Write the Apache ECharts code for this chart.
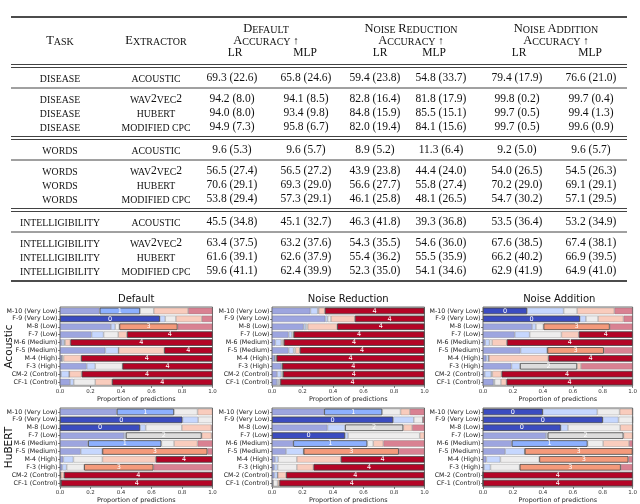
<!DOCTYPE html>
<html><head><meta charset="utf-8">
<script src="https://cdn.jsdelivr.net/npm/echarts@6/dist/echarts.min.js"></script>
<style>html,body{margin:0;padding:0;background:#fff}#c{width:640px;height:504px}</style>
</head><body><div id="c"></div>
<script>
// ---------------- table data ----------------
const tableTasks = ['DISEASE','DISEASE','DISEASE','DISEASE','WORDS','WORDS','WORDS','WORDS','INTELLIGIBILITY','INTELLIGIBILITY','INTELLIGIBILITY','INTELLIGIBILITY'];
const tableExtractors = ['ACOUSTIC','WAV2VEC2','HUBERT','MODIFIED CPC','ACOUSTIC','WAV2VEC2','HUBERT','MODIFIED CPC','ACOUSTIC','WAV2VEC2','HUBERT','MODIFIED CPC'];
const defaultLR = ['69.3 (22.6)','94.2 (8.0)','94.0 (8.0)','94.9 (7.3)','9.6 (5.3)','56.5 (27.4)','70.6 (29.1)','53.8 (29.4)','45.5 (34.8)','63.4 (37.5)','61.6 (39.1)','59.6 (41.1)'];
const defaultMLP = ['65.8 (24.6)','94.1 (8.5)','93.4 (9.8)','95.8 (6.7)','9.6 (5.7)','56.5 (27.2)','69.3 (29.0)','57.3 (29.1)','45.1 (32.7)','63.2 (37.6)','62.6 (37.9)','62.4 (39.9)'];
const noiseRedLR = ['59.4 (23.8)','82.8 (16.4)','84.8 (15.9)','82.0 (19.4)','8.9 (5.2)','43.9 (23.8)','56.6 (27.7)','46.1 (25.8)','46.3 (41.8)','54.3 (35.5)','55.4 (36.2)','52.3 (35.0)'];
const noiseRedMLP = ['54.8 (33.7)','81.8 (17.9)','85.5 (15.1)','84.1 (15.6)','11.3 (6.4)','44.4 (24.0)','55.8 (27.4)','48.1 (26.5)','39.3 (36.8)','54.6 (36.0)','55.5 (35.9)','54.1 (34.6)'];
const noiseAddLR = ['79.4 (17.9)','99.8 (0.2)','99.7 (0.5)','99.7 (0.5)','9.2 (5.0)','54.0 (26.5)','70.2 (29.0)','54.7 (30.2)','53.5 (36.4)','67.6 (38.5)','66.2 (40.2)','62.9 (41.9)'];
const noiseAddMLP = ['76.6 (21.0)','99.7 (0.4)','99.4 (1.3)','99.6 (0.9)','9.6 (5.7)','54.5 (26.3)','69.1 (29.1)','57.1 (29.5)','53.2 (34.9)','67.4 (38.1)','66.9 (39.5)','64.9 (41.0)'];
const conditionHeaders = ['DEFAULT','NOISE REDUCTION','NOISE ADDITION'];
const subHeaders = ['LR','MLP'];

// ---------------- chart data ----------------
const speakers = ['M-10 (Very Low)','F-9 (Very Low)','M-8 (Low)','F-7 (Low)','M-6 (Medium)','F-5 (Medium)','M-4 (High)','F-3 (High)','CM-2 (Control)','CF-1 (Control)'];
const classIds = ['0','1','2','3','4'];
const conditionTitles = ['Default','Noise Reduction','Noise Addition'];
const featureNames = ['Acoustic','HuBERT'];

const acousticDefault = [
  [0.26,0.265,0.09,0.225,0.16],[0.655,0.035,0.07,0.17,0.07],[0.334,0.028,0.027,0.382,0.229],
  [0.207,0.079,0.096,0.057,0.561],[0.012,0.015,0.006,0.035,0.932],[0.297,0.087,0,0.299,0.317],
  [0.013,0,0.01,0.115,0.862],[0.175,0.056,0.179,0,0.59],[0.007,0.054,0,0.081,0.858],[0.066,0.024,0.141,0.11,0.659]];
const acousticNoiseReduction = [
  [0.252,0.048,0.006,0.04,0.654],[0.35,0.015,0.022,0.156,0.457],[0.208,0.015,0.011,0.193,0.573],
  [0.109,0.022,0.011,0,0.858],[0.022,0.039,0.009,0.007,0.923],[0.109,0.033,0.011,0.029,0.818],
  [0.02,0,0.01,0,0.97],[0.061,0.007,0,0,0.932],[0.033,0.028,0.011,0,0.928],[0.033,0.011,0.011,0,0.945]];
const acousticNoiseAddition = [
  [0.295,0.244,0.09,0.249,0.122],[0.648,0.04,0.081,0.17,0.061],[0.328,0.026,0.05,0.443,0.153],
  [0.212,0.1,0.212,0.116,0.36],[0.015,0.029,0.017,0.098,0.841],[0.251,0.179,0,0.378,0.192],
  [0.022,0.017,0,0.398,0.563],[0.19,0.057,0.382,0.026,0.345],[0.011,0.044,0.007,0.062,0.876],[0.07,0.007,0.043,0.037,0.843]];
const hubertDefault = [
  [0.372,0.376,0.154,0.098,0],[0.803,0.103,0.094,0,0],[0.525,0.037,0.237,0.194,0.007],
  [0.42,0.012,0.497,0.065,0.006],[0.184,0.481,0.083,0.154,0.098],[0.136,0.142,0,0.689,0.033],
  [0.022,0.066,0.19,0.35,0.372],[0.015,0.029,0.114,0.455,0.387],[0.004,0,0,0.022,0.974],[0.006,0,0,0,0.994]];
const hubertNoiseReduction = [
  [0.342,0.381,0.12,0.061,0.096],[0.795,0.135,0.059,0,0.011],[0.364,0.115,0.382,0.058,0.081],
  [0.479,0.02,0.47,0.031,0],[0.139,0.486,0.039,0.066,0.27],[0.092,0.115,0,0.625,0.168],
  [0.02,0.021,0.122,0.288,0.549],[0.015,0.022,0.126,0.109,0.728],[0.015,0.022,0,0.055,0.908],[0.007,0,0.03,0.011,0.952]];
const hubertNoiseAddition = [
  [0.4,0.364,0.149,0.087,0],[0.801,0.105,0.094,0,0],[0.52,0.048,0.349,0.083,0],
  [0.421,0.011,0.507,0.061,0],[0.192,0.507,0.104,0.173,0.024],[0.148,0.131,0,0.721,0],
  [0.022,0.094,0.26,0.596,0.028],[0.007,0.043,0.195,0.676,0.079],[0,0,0,0,1],[0,0,0,0,1]];

const chartData = [acousticDefault, acousticNoiseReduction, acousticNoiseAddition,
                   hubertDefault, hubertNoiseReduction, hubertNoiseAddition];

// ---------------- styling / layout ----------------
const classColors = ['#3b4cc0','#8db0fe','#dddcdc','#f49a7b','#b40426'];
const SERIF = "'Liberation Serif','DejaVu Serif',serif";
const SANS = "'DejaVu Sans',sans-serif";
const ink = '#111';

const graphic = [];
const TL = 11, TR = 627;
function hline(y, w) { graphic.push({type:'line', silent:true, shape:{x1:TL,y1:y,x2:TR,y2:y}, style:{stroke:ink, lineWidth:w}}); }
function txt(x, y, text, rich, extra) {
  const st = Object.assign({text:text, fill:ink, align:'center', verticalAlign:'middle', textAlign:'center', textVerticalAlign:'middle'}, extra||{});
  if (rich) st.rich = rich;
  graphic.push(Object.assign({type:'text', silent:true, x:x, y:y, style:st}));
}
const richTbl = {
  B:{fontSize:12.5, fontFamily:SERIF, lineHeight:12, verticalAlign:'bottom', fill:ink},
  s:{fontSize:10, fontFamily:SERIF, lineHeight:12, verticalAlign:'bottom', fill:ink},
  n:{fontSize:11.5, fontFamily:SERIF, lineHeight:12, verticalAlign:'bottom', fill:ink},
  a:{fontSize:11, fontFamily:SERIF, lineHeight:12, verticalAlign:'bottom', fill:ink}
};
const richBody = {
  s:{fontSize:9.8, fontFamily:SERIF, lineHeight:12, verticalAlign:'bottom', fill:ink},
  n:{fontSize:11.5, fontFamily:SERIF, lineHeight:12, verticalAlign:'bottom', fill:ink}
};
function smallCaps(str) {
  return str.replace(/([A-Z ]+)|([0-9]+)/g, (m, a, d) => a ? '{s|' + a + '}' : '{n|' + d + '}');
}
function headerCaps(str) {
  return str.split(' ').map(w => '{B|' + w[0] + '}{s|' + w.slice(1) + '}').join('{s| }');
}

// rules
hline(17, 1.3);
hline(64.5, 0.8); hline(67.5, 0.8);
hline(88, 0.8);
hline(136.5, 0.8); hline(139.5, 0.8);
hline(160, 0.8);
hline(208.5, 0.8); hline(211.5, 0.8);
hline(232, 0.8);
hline(281, 1.3);

// header
txt(60, 41, headerCaps('TASK'), richTbl);
txt(156, 41, headerCaps('EXTRACTOR'), richTbl);
const headCenters = [266, 411, 556];
const subCenters = [[235, 305], [380, 434], [519, 590]];
conditionHeaders.forEach((h, i) => {
  txt(headCenters[i], 29, headerCaps(h), richTbl);
  txt(headCenters[i], 41, headerCaps('ACCURACY') + '{a| ↑}', richTbl);
  subHeaders.forEach((s, j) => txt(subCenters[i][j], 53, s, null, {font:'11.5px ' + SERIF}));
});

// body
const valueCols = [defaultLR, defaultMLP, noiseRedLR, noiseRedMLP, noiseAddLR, noiseAddMLP];
const valueX = [232, 306, 375, 441, 517, 591];
tableTasks.forEach((t, r) => {
  const g = Math.floor(r / 4), i = r % 4;
  const base = 67.5 + 72 * g;
  const y = i === 0 ? base + 10.5 : base + 31.5 + 14 * (i - 1);
  txt(60, y, smallCaps(t), richBody);
  txt(156, y, smallCaps(tableExtractors[r]), richBody);
  valueCols.forEach((col, c) => txt(valueX[c], y, col[r], null, {font:'11.5px ' + SERIF}));
});

// left row labels of the chart panel
const gridLefts = [60, 272, 483];
const gridTops = [307, 408];
const gridW = 152.5, gridH = 79;
featureNames.forEach((f, r) => {
  graphic.push({type:'text', silent:true, x:9, y:gridTops[r] + gridH / 2, rotation:Math.PI / 2,
    style:{text:f, font:'10.5px ' + SANS, fill:ink, align:'center', verticalAlign:'middle', textAlign:'center', textVerticalAlign:'middle'}});
});

// ---------------- charts ----------------
const grids = [], xAxes = [], yAxes = [], series = [], titles = [];
chartData.forEach((rows, c) => {
  const col = c % 3, row = Math.floor(c / 3);
  grids.push({left:gridLefts[col], top:gridTops[row], width:gridW, height:gridH, show:true,
    borderColor:'#333', borderWidth:0.7, backgroundColor:'#fff'});
  xAxes.push({type:'value', gridIndex:c, min:0, max:1, interval:0.2,
    axisLine:{show:false}, splitLine:{show:false},
    axisTick:{show:true, length:2, lineStyle:{color:'#333', width:0.6}},
    axisLabel:{fontSize:5.5, color:'#333', margin:3, fontFamily:SANS, formatter:v => v.toFixed(1)},
    name:'Proportion of predictions', nameLocation:'middle', nameGap:10,
    nameTextStyle:{fontSize:6.4, color:'#222', fontFamily:SANS}});
  yAxes.push({type:'category', gridIndex:c, data:speakers, inverse:true,
    axisLine:{show:false}, splitLine:{show:false},
    axisTick:{show:true, alignWithLabel:true, length:2, lineStyle:{color:'#333', width:0.6}},
    axisLabel:{interval:0, fontSize:6.3, color:'#222', margin:2.5, fontFamily:SANS}});
  if (row === 0) {
    titles.push({text:conditionTitles[col], left:gridLefts[col] + gridW / 2, top:294, textAlign:'center', padding:0,
      textStyle:{fontSize:10, fontWeight:'normal', fontFamily:SANS, color:ink}});
  }
  classIds.forEach((cls, k) => {
    series.push({
      type:'bar', name:cls, stack:'panel' + c, xAxisIndex:c, yAxisIndex:c,
      barCategoryGap:'16%',
      label:{show:false, position:'inside', color:'#fff', fontSize:6.5, fontFamily:SANS, formatter:cls},
      emphasis:{disabled:true},
      data: rows.map(r => {
        const top = r.indexOf(Math.max.apply(null, r)) === k;
        return {value:r[k],
          itemStyle:{color:classColors[k], opacity:top ? 1 : 0.5, borderColor:top ? '#444' : '#666', borderWidth:top ? 0.8 : 0.6},
          label:{show:top}};
      })
    });
  });
});

const chart = echarts.init(document.getElementById('c'), null, {renderer:'canvas'});
chart.setOption({
  animation:false,
  backgroundColor:'#fff',
  title:titles,
  grid:grids, xAxis:xAxes, yAxis:yAxes, series:series,
  graphic:graphic
});
</script>
</body></html>
